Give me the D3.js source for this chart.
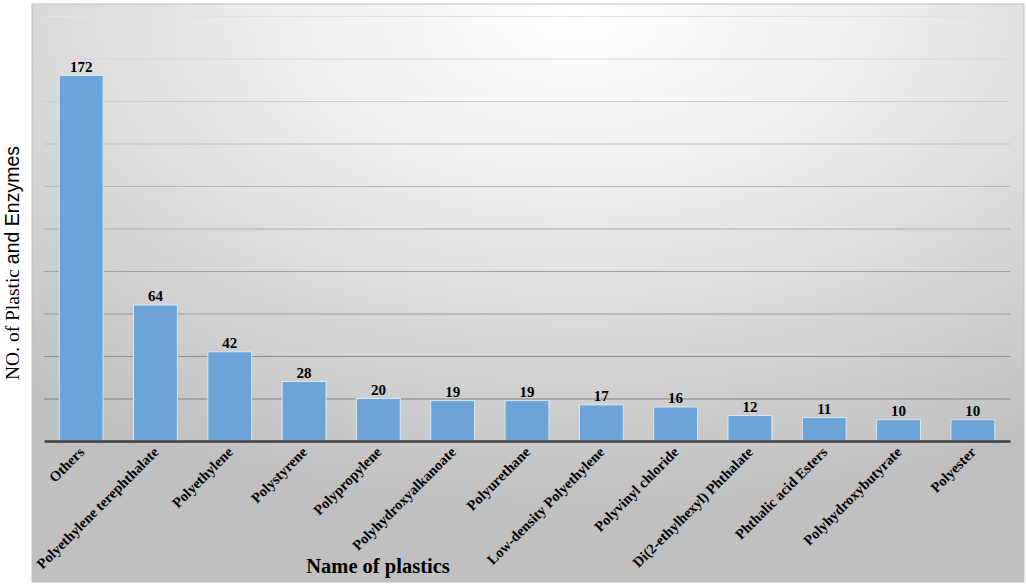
<!DOCTYPE html>
<html>
<head>
<meta charset="utf-8">
<script src="https://cdn.jsdelivr.net/npm/d3@7"></script>
<style>
  html, body { margin: 0; padding: 0; background: #ffffff; }
  svg { display: block; }
</style>
</head>
<body>
<div id="chart"></div>
<script>
const categories = ["Others", "Polyethylene terephthalate", "Polyethylene", "Polystyrene", "Polypropylene",
  "Polyhydroxyalkanoate", "Polyurethane", "Low-density Polyethylene", "Polyvinyl chloride",
  "Di(2-ethylhexyl) Phthalate", "Phthalic acid Esters", "Polyhydroxybutyrate", "Polyester"];
const values = [172, 64, 42, 28, 20, 19, 19, 17, 16, 12, 11, 10, 10];
const gridTicks = [20, 40, 60, 80, 100, 120, 140, 160, 180, 200];

const W = 1026, H = 588;
const plot = { left: 44, right: 1010, top: 16, bottom: 441 };

const svg = d3.select("#chart").append("svg").attr("width", W).attr("height", H);
const defs = svg.append("defs");
const rg = defs.append("radialGradient").attr("id", "bg")
  .attr("cx", 0.55).attr("cy", 0.02).attr("r", 0.85).attr("fx", 0.55).attr("fy", 0.02);
rg.append("stop").attr("offset", "0%").attr("stop-color", "#ffffff");
rg.append("stop").attr("offset", "35%").attr("stop-color", "#eeeeee");
rg.append("stop").attr("offset", "100%").attr("stop-color", "#c0c0c0");

svg.append("rect").attr("x", 32).attr("y", 4).attr("width", 992).attr("height", 578)
  .attr("fill", "url(#bg)").attr("stroke", "#c0c0c0").attr("stroke-width", 1);

const x = d3.scaleBand().domain(categories).range([plot.left, plot.right]).paddingInner(0.41).paddingOuter(0.205);
const y = d3.scaleLinear().domain([0, 200]).range([plot.bottom, plot.top]);
const gridColor = d3.scaleLinear().domain([0, 200]).range(["#787878", "#e2e2e2"]);

// gridlines
svg.append("g").selectAll("line").data(gridTicks).join("line")
  .attr("x1", plot.left).attr("x2", plot.right)
  .attr("y1", d => y(d) + 0.5).attr("y2", d => y(d) + 0.5)
  .attr("stroke", d => gridColor(d)).attr("stroke-width", 1);

// bars
svg.append("g").selectAll("rect").data(values).join("rect")
  .attr("x", (d, i) => x(categories[i]))
  .attr("y", d => y(d))
  .attr("width", x.bandwidth())
  .attr("height", d => y(0) - y(d))
  .attr("fill", "#6ca4d8")
  .attr("stroke", "#d6e6f5").attr("stroke-width", 1);

// baseline axis
const xAxis = d3.axisBottom(x).tickSize(0).tickFormat("");
const ax = svg.append("g").attr("transform", `translate(0,${plot.bottom})`).call(xAxis);
ax.select(".domain").attr("stroke", "#404040").attr("stroke-width", 2.5);

// value labels
svg.append("g").selectAll("text").data(values).join("text")
  .attr("x", (d, i) => x(categories[i]) + x.bandwidth() / 2)
  .attr("y", d => y(d) - 4)
  .attr("text-anchor", "middle")
  .attr("font-family", "'Liberation Serif', 'Times New Roman', serif")
  .attr("font-weight", "bold").attr("font-size", 15).attr("fill", "#000")
  .text(d => d);

// category labels
svg.append("g").selectAll("text").data(categories).join("text")
  .attr("transform", d => `translate(${x(d) + x.bandwidth() / 2 + 4},${plot.bottom + 12}) rotate(-45)`)
  .attr("text-anchor", "end")
  .attr("font-family", "'Liberation Serif', 'Times New Roman', serif")
  .attr("font-weight", "bold").attr("font-size", 14.5).attr("fill", "#000")
  .text(d => d);

// x title
svg.append("text").attr("x", 378).attr("y", 573).attr("text-anchor", "middle")
  .attr("font-family", "'Liberation Serif', 'Times New Roman', serif")
  .attr("font-weight", "bold").attr("font-size", 20.5).attr("fill", "#000")
  .text("Name of plastics");

// y title
const yt = svg.append("text").attr("transform", "translate(19,263) rotate(-90)")
  .attr("text-anchor", "middle").attr("font-size", 19.5).attr("fill", "#000");
yt.append("tspan").attr("font-family", "'Liberation Serif', 'Times New Roman', serif").text("NO. of Plastic ");
yt.append("tspan").attr("font-family", "'Liberation Sans', Arial, sans-serif").text("and Enzymes");
</script>
</body>
</html>
